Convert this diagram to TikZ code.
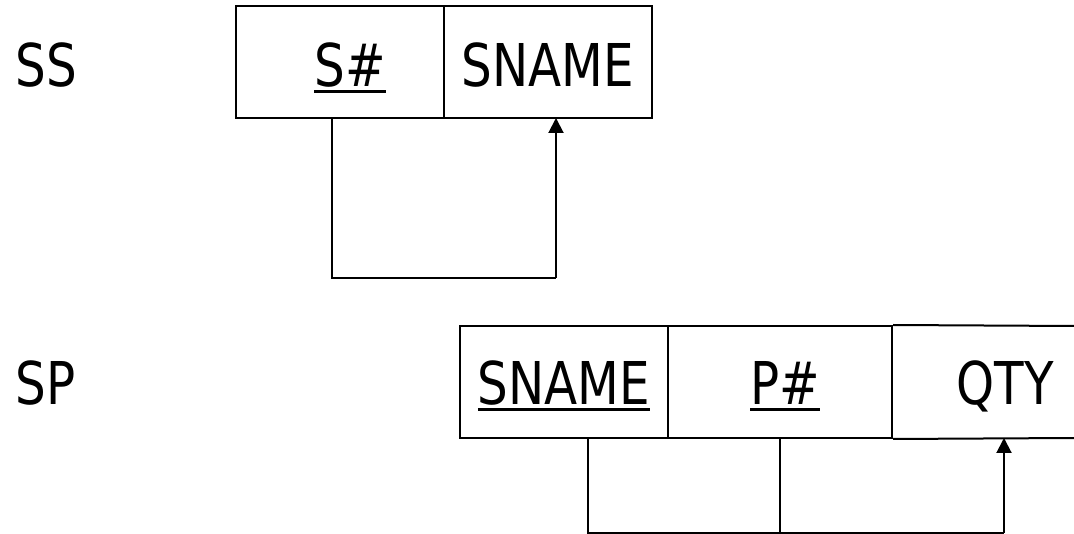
\documentclass[tikz,border=0pt]{standalone}
\usepackage{fontspec}
\setmainfont[FakeStretch=0.82]{DejaVu Sans}
\usetikzlibrary{arrows.meta}
\newcommand{\myul}[1]{\setbox0\hbox{#1}\rlap{\rule[-6pt]{\wd0}{3pt}}\box0}
\begin{document}
\begin{tikzpicture}[x=1pt,y=-1pt,
  line width=2pt,
  lbl/.style={font=\fontsize{59}{60}\selectfont, inner sep=0pt, anchor=base},
  cell/.style={draw, rectangle, inner sep=0pt, line width=2pt},
  conn/.style={line width=2pt},
  arr/.style={line width=2pt, -{Triangle[length=15pt,width=15pt]}}]
\useasboundingbox (0,0) rectangle (1074,534);
% labels
\node[lbl, anchor=base west] (ss) at (15,87) {SS};
\node[lbl, anchor=base west] (sp) at (15,405) {SP};
% top table
\node[cell, minimum width=208pt, minimum height=112pt] (c1) at (340,62) {};
\node[cell, minimum width=208pt, minimum height=112pt] (c2) at (548,62) {};
\node[lbl] (t1) at (350,87) {\myul{S\#}};
\node[lbl] (t2) at (548,87) {SNAME};
% bottom table
\node[cell, minimum width=208pt, minimum height=112pt] (d1) at (564,382) {};
\node[cell, minimum width=224pt, minimum height=112pt] (d2) at (780,382) {};
\coordinate (d3a) at (1074,326);
\coordinate (d3b) at (1074,438);
\draw (d2.north east) -- (d3a);
\draw (d2.south east) -- (d3b);
\node[lbl] (u1) at (564,405) {\myul{SNAME}};
\node[lbl] (u2) at (785,405) {\myul{P\#}};
\node[lbl] (u3) at (1005,405) {QTY};
% top connector
\coordinate (a1) at (332,118);
\coordinate (a2) at (332,278);
\coordinate (a3) at (556,278);
\coordinate (a4) at (556,118);
\draw[conn] (a1) -- (a2) -- (a3);
\draw[arr] (a3) -- (a4);
% bottom connector
\coordinate (b1) at (588,438);
\coordinate (b2) at (588,533);
\coordinate (b3) at (780,438);
\coordinate (b4) at (780,533);
\coordinate (b5) at (1004,533);
\coordinate (b6) at (1004,438);
\draw[conn] (b1) -- (b2) -- (b5);
\draw[conn] (b3) -- (b4);
\draw[arr] (b5) -- (b6);
\end{tikzpicture}
\end{document}
